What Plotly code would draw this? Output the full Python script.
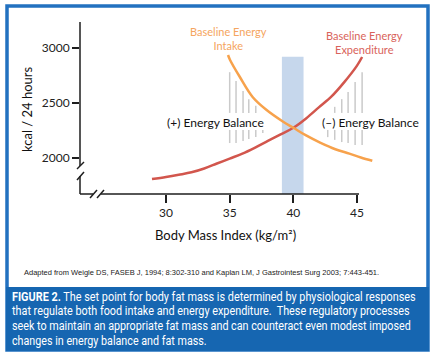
import plotly.graph_objects as go

# ---------------- data ----------------
bmi_expenditure = [28.9, 30, 31, 32, 33, 34, 35, 36, 37, 38, 39, 40, 41, 42, 43, 44, 45, 45.4]
kcal_expenditure = [1809, 1828, 1848, 1870, 1905, 1950, 1995, 2040, 2095, 2155, 2215, 2275, 2360, 2460, 2560, 2690, 2840, 2918]

bmi_intake = [34.87, 35.03, 35.8, 36.8, 37.9, 39.2, 40.0, 41.0, 42.1, 43.3, 44.4, 45.3, 46.2]
kcal_intake = [2936, 2891, 2736, 2555, 2436, 2330, 2275, 2205, 2140, 2080, 2040, 2005, 1975]

setpoint_band = [39.1, 40.8]
setpoint_top = 2920

# hatch lines (energy balance regions)
pos_up_x = [35.0, 35.5, 36.05, 36.5, 37.05]
pos_up_top = [2780, 2700, 2610, 2535, 2475]
pos_up_bot = [2410] * 5
pos_lo_x = [35.0, 35.5, 36.05, 36.5, 37.05, 37.6]
pos_lo_top = [2255] * 6
pos_lo_bot = [2136, 2136, 2155, 2173, 2191, 2227]
neg_up_x = [43.25, 43.8, 44.3, 44.85, 45.4]
neg_up_top = [2465, 2535, 2600, 2690, 2780]
neg_up_bot = [2410] * 5
neg_lo_x = [42.7, 43.25, 43.8, 44.3, 44.85, 45.4]
neg_lo_top = [2255] * 6
neg_lo_bot = [2190, 2165, 2145, 2136, 2118, 2118]

x_ticks = [30, 35, 40, 45]
y_ticks = [2000, 2500, 3000]

caption_lines = [
    "<b>FIGURE 2.</b> The set point for body fat mass is determined by physiological responses",
    "that regulate both food intake and energy expenditure.  These regulatory processes",
    "seek to maintain an appropriate fat mass and can counteract even modest imposed",
    "changes in energy balance and fat mass.",
]
caption_widths = [404, 398, 399, 195]
source_text = "Adapted from Weigle DS, FASEB J, 1994; 8:302-310 and Kaplan LM, J Gastrointest Surg 2003; 7:443-451."

# ---------------- layout helpers ----------------
W, H = 432, 355
PL, PR, PT, PB = 80, 390, 22, 194
X_RANGE = [23.246, 47.59]
Y_RANGE = [1673, 3236]


def px(xp):
    return (xp - PL) / (PR - PL)


def py(yp):
    return (PB - yp) / (PB - PT)


FONT = "Lato, Carlito, 'Open Sans', sans-serif"
COND = "Roboto, 'Liberation Sans', sans-serif"


def hatch(xs, tops, bots):
    X, Y = [], []
    for x, t, b in zip(xs, tops, bots):
        X += [x, x, None]
        Y += [b, t, None]
    return X, Y


fig = go.Figure()

# set-point band
fig.add_trace(go.Scatter(
    x=[setpoint_band[0], setpoint_band[1], setpoint_band[1], setpoint_band[0], setpoint_band[0]],
    y=[Y_RANGE[0], Y_RANGE[0], setpoint_top, setpoint_top, Y_RANGE[0]],
    fill="toself", fillcolor="#c6d7ec", line=dict(width=0), mode="lines",
    hoverinfo="skip", showlegend=False))

for xs, ts, bs in [(pos_up_x, pos_up_top, pos_up_bot), (pos_lo_x, pos_lo_top, pos_lo_bot),
                   (neg_up_x, neg_up_top, neg_up_bot), (neg_lo_x, neg_lo_top, neg_lo_bot)]:
    hx, hy = hatch(xs, ts, bs)
    fig.add_trace(go.Scatter(x=hx, y=hy, mode="lines", line=dict(color="#cacaca", width=1.5),
                             hoverinfo="skip", showlegend=False))

fig.add_trace(go.Scatter(x=bmi_expenditure, y=kcal_expenditure, mode="lines",
                         line=dict(color="#d2564d", width=2.5, shape="spline"),
                         showlegend=False, name="Baseline Energy Expenditure"))
fig.add_trace(go.Scatter(x=bmi_intake, y=kcal_intake, mode="lines",
                         line=dict(color="#f7a24c", width=2.5, shape="spline"),
                         showlegend=False, name="Baseline Energy Intake"))

shapes = []
# frame and caption box
shapes.append(dict(type="rect", xref="paper", yref="paper", x0=px(7), x1=px(428), y0=py(350), y1=py(6),
                   line=dict(color="#2271c0", width=3.5), fillcolor="rgba(0,0,0,0)", layer="below"))
shapes.append(dict(type="rect", xref="paper", yref="paper", x0=px(6), x1=px(429), y0=py(351), y1=py(287),
                   line=dict(width=0), fillcolor="#1666b1", layer="below"))

AX = dict(color="#1e1e1e", width=1.5)
# axes with breaks
for (x0, y0, x1, y1) in [(80, 22, 80, 166), (77, 169, 84, 162), (77, 180, 84, 172), (80, 176, 80, 194),
                         (80, 194, 93, 194), (90, 198, 97, 190), (97, 198, 104, 190), (101, 194, 359, 194)]:
    shapes.append(dict(type="line", xref="paper", yref="paper", x0=px(x0), y0=py(y0), x1=px(x1), y1=py(y1),
                       line=AX))

ann = []
ann.append(dict(text="Baseline Energy<br>Intake", x=px(228), y=py(38.5), font=dict(size=11, color="#f5a560", family=FONT)))
ann.append(dict(text="Baseline Energy<br>Expenditure", x=px(364), y=py(42.5), font=dict(size=11, color="#d9635b", family=FONT)))
ann.append(dict(text="(+) Energy Balance", x=px(215), y=py(123), font=dict(size=12, color="#111", family=FONT)))
ann.append(dict(text="(–) Energy Balance", x=px(370), y=py(123), font=dict(size=12, color="#111", family=FONT)))
ann.append(dict(text="kcal / 24 hours", x=px(27), y=py(110), textangle=-90, font=dict(size=13, color="#111", family=FONT)))
ann.append(dict(text="Body Mass Index (kg/m²)", x=px(225), y=py(235), font=dict(size=13, color="#111", family=FONT)))
ann.append(dict(text=source_text, x=px(22), y=py(272), xanchor="left",
                font=dict(size=7.5, color="#222", family="Arial, 'Liberation Sans', sans-serif")))
for i, line in enumerate(caption_lines):
    ann.append(dict(text=line, x=px(10), y=py(296 + i * 14.7), xanchor="left", align="left",
                    font=dict(size=12.5, color="white", family=COND)))
for a in ann:
    a.update(xref="paper", yref="paper", showarrow=False)
    a.setdefault("xanchor", "center")
    a.setdefault("yanchor", "middle")

fig.update_layout(
    width=W, height=H,
    margin=dict(l=PL, r=W - PR, t=PT, b=H - PB),
    paper_bgcolor="white", plot_bgcolor="rgba(0,0,0,0)",
    shapes=shapes, annotations=ann,
    xaxis=dict(range=X_RANGE, tickvals=x_ticks, ticks="outside", ticklen=8, tickwidth=1.5, tickcolor="#1e1e1e",
               showgrid=False, zeroline=False, showline=False,
               tickfont=dict(size=12, color="#222", family=FONT), fixedrange=True),
    yaxis=dict(range=Y_RANGE, tickvals=y_ticks, ticks="outside", ticklen=7, tickwidth=1.5, tickcolor="#1e1e1e",
               showgrid=False, zeroline=False, showline=False,
               tickfont=dict(size=12, color="#222", family=FONT), fixedrange=True),
    showlegend=False,
)

# condense caption lines horizontally to the widths of the original (condensed typeface)
keys = [l.replace("<b>", "").replace("</b>", "")[:12] for l in caption_lines]
pairs = ",".join("['%s',%d]" % (k, w) for k, w in zip(keys, caption_widths))
post = (
    "document.body.style.margin='0';document.body.style.overflow='hidden';"
    "var gd=document.getElementById('{plot_id}');var T=[" + pairs + "];"
    "gd.querySelectorAll('text.annotation-text').forEach(function(t){var s=t.textContent;"
    "T.forEach(function(p){if(s.indexOf(p[0])===0){var b=t.getBBox();var k=p[1]/b.width;var x0=b.x;"
    "var old=t.getAttribute('transform')||'';"
    "t.setAttribute('transform',old+' translate('+x0+',0) scale('+k+',1) translate('+(-x0)+',0)');}});});"
)

fig.write_html("out.html", config={"displayModeBar": False}, post_script=post)
